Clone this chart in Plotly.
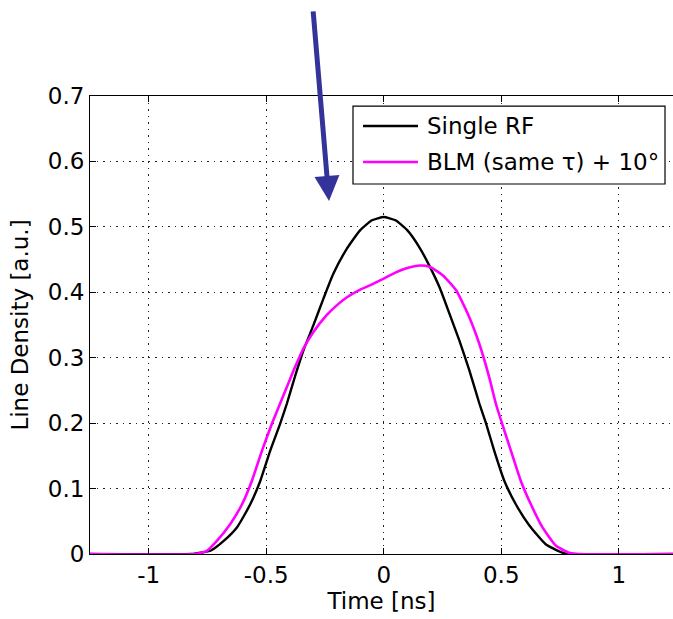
import plotly.graph_objects as go

# Single RF line density
t_single = [-1.25, -0.82, -0.78, -0.737, -0.681, -0.624, -0.568, -0.525, -0.483, -0.441,
            -0.412, -0.377, -0.342, -0.300, -0.257, -0.215, -0.158, -0.100, -0.050, 0.0,
            0.050, 0.100, 0.153, 0.195, 0.237, 0.280, 0.322, 0.364, 0.407, 0.435,
            0.470, 0.513, 0.562, 0.619, 0.689, 0.760, 0.80, 1.25]
ld_single = [0.0, 0.0, 0.002, 0.005, 0.020, 0.041, 0.076, 0.112, 0.158, 0.199,
             0.230, 0.272, 0.311, 0.349, 0.390, 0.428, 0.466, 0.495, 0.510, 0.515,
             0.510, 0.495, 0.468, 0.440, 0.408, 0.367, 0.326, 0.281, 0.230, 0.200,
             0.158, 0.112, 0.076, 0.044, 0.015, 0.002, 0.0, 0.0]

# BLM (same tau) + 10 deg line density
t_blm = [-1.25, -0.80, -0.752, -0.710, -0.653, -0.603, -0.561, -0.518, -0.476, -0.441,
         -0.398, -0.377, -0.342, -0.300, -0.243, -0.200, -0.158, -0.100, -0.050, 0.0,
         0.050, 0.100, 0.153, 0.195, 0.251, 0.308, 0.364, 0.407, 0.449, 0.477,
         0.503, 0.541, 0.583, 0.626, 0.675, 0.732, 0.788, 0.83, 1.25]
ld_blm = [0.0, 0.0, 0.005, 0.020, 0.046, 0.076, 0.112, 0.158, 0.199, 0.230,
          0.268, 0.286, 0.314, 0.339, 0.365, 0.380, 0.392, 0.404, 0.412, 0.421,
          0.430, 0.437, 0.441, 0.439, 0.426, 0.403, 0.362, 0.321, 0.270, 0.230,
          0.200, 0.158, 0.112, 0.076, 0.041, 0.013, 0.002, 0.0, 0.0]

x_ticks = [-1, -0.5, 0, 0.5, 1]
x_labels = ["-1", "-0.5", "0", "0.5", "1"]
y_ticks = [0, 0.1, 0.2, 0.3, 0.4, 0.5, 0.6, 0.7]
y_labels = ["0", "0.1", "0.2", "0.3", "0.4", "0.5", "0.6", "0.7"]
series_names = ["Single RF", "BLM (same τ) + 10°"]
series_colors = ["black", "#ff00ff"]

FONT = "DejaVu Sans, Verdana, sans-serif"
GRID_DASH = "1.5px,5px"

fig = go.Figure()
fig.add_trace(go.Scatter(x=t_single, y=ld_single, mode="lines", name=series_names[0],
                         line=dict(color=series_colors[0], width=2.4, shape="spline", smoothing=0.5)))
fig.add_trace(go.Scatter(x=t_blm, y=ld_blm, mode="lines", name=series_names[1],
                         line=dict(color=series_colors[1], width=2.6, shape="spline", smoothing=0.5)))

fig.update_layout(
    width=673, height=619,
    margin=dict(l=90, r=0, t=96, b=65),
    paper_bgcolor="white", plot_bgcolor="white",
    font=dict(family=FONT, size=23, color="black"),
    showlegend=False,
    xaxis=dict(range=[-1.25, 1.231], tickvals=x_ticks, ticktext=x_labels,
               ticks="inside", ticklen=6, tickcolor="black", tickwidth=1,
               showline=True, linecolor="black", linewidth=1, mirror="ticks",
               showgrid=True, gridcolor="#222222", griddash=GRID_DASH, gridwidth=1.2,
               zeroline=False,
               title=dict(text="Time [ns]", font=dict(size=23), standoff=0),
               tickfont=dict(size=23)),
    yaxis=dict(range=[0, 0.7], tickvals=y_ticks, ticktext=y_labels,
               ticks="inside", ticklen=6, tickcolor="black", tickwidth=1,
               showline=True, linecolor="black", linewidth=1, mirror=False,
               showgrid=True, gridcolor="#222222", griddash=GRID_DASH, gridwidth=1.2,
               zeroline=False,
               title=dict(text="Line Density [a.u.]", font=dict(size=23), standoff=12),
               tickfont=dict(size=23)),
)

# Legend box (MATLAB style), drawn in paper coordinates
fig.add_shape(type="rect", xref="paper", yref="paper", x0=0.4511, x1=0.9863,
              y0=0.8079, y1=0.978, line=dict(color="black", width=1.2),
              fillcolor="white", layer="above")
legend_rows_y = [0.9345, 0.8560]
for name, color, yy in zip(series_names, series_colors, legend_rows_y):
    fig.add_shape(type="line", xref="paper", yref="paper", x0=0.4683, x1=0.5626,
                  y0=yy, y1=yy, line=dict(color=color, width=2.4), layer="above")
    fig.add_annotation(xref="paper", yref="paper", x=0.5746, y=yy, xanchor="left",
                       yanchor="middle", text=name, showarrow=False,
                       font=dict(family=FONT, size=23, color="black"))

fig.add_annotation(xref="paper", yref="paper", x=0.410, y=0.771,
                   ax=-16, ay=-191, axref="pixel", ayref="pixel",
                   text="", showarrow=True, arrowhead=2, arrowsize=1.0,
                   arrowwidth=5, arrowcolor="#333399", standoff=0)

fig.write_html("out.html", config={"displayModeBar": False},
               post_script="document.body.style.margin='0';document.body.style.overflow='hidden';")
